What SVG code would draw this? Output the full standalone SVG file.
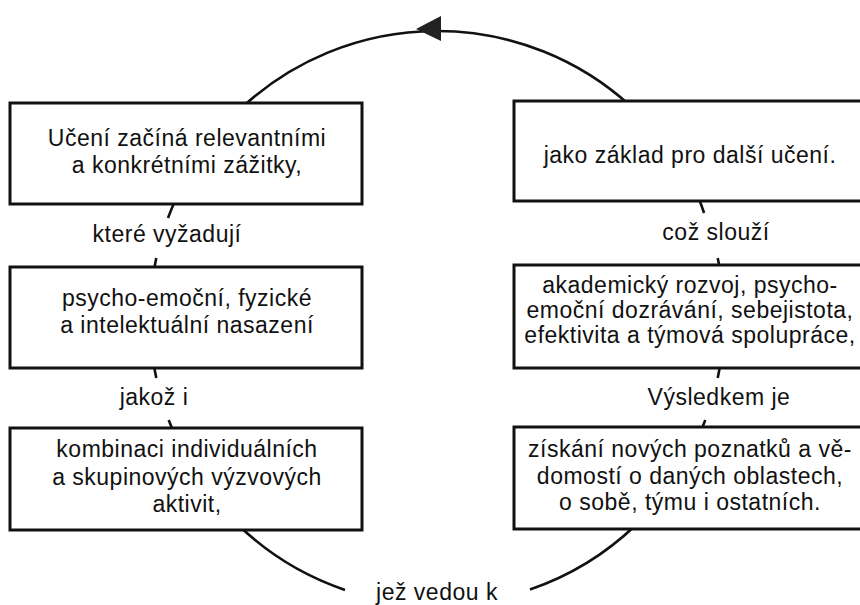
<svg xmlns="http://www.w3.org/2000/svg" width="860" height="605" viewBox="0 0 860 605">
<style>
.box{fill:#fff;stroke:#111;stroke-width:3}
.arc{fill:none;stroke:#111;stroke-width:2.6}
text{font-family:"Liberation Sans",Arial,sans-serif;font-size:23px;fill:#111;letter-spacing:0.5px;text-anchor:middle}
</style>
<rect width="860" height="605" fill="#fff"/>
<g id="connectors">
<path class="arc" d="M 241.4 108 A 287 287 0 0 1 630.5 106"/>
<path class="arc" d="M 175.4 200 A 287 287 0 0 0 168 218"/>
<path class="arc" d="M 156.3 258 A 287 287 0 0 0 153.7 272"/>
<path class="arc" d="M 153.7 364 A 287 287 0 0 0 156.3 378"/>
<path class="arc" d="M 168.7 420 A 287 287 0 0 0 174.5 434"/>
<path class="arc" d="M 238.2 525 A 287 287 0 0 0 345 589.9"/>
<path class="arc" d="M 530 589.5 A 287 287 0 0 0 635.8 525"/>
<path class="arc" d="M 698.6 198 A 287 287 0 0 1 704.1 213"/>
<path class="arc" d="M 717.7 258 A 287 287 0 0 1 720 270"/>
<path class="arc" d="M 720.3 364 A 287 287 0 0 1 717.7 378"/>
<path class="arc" d="M 705.3 420 A 287 287 0 0 1 700.4 432"/>
<polygon points="416,29 441,16 441,41" fill="#222"/>
</g>
<g id="n1"><rect class="box" x="10" y="103" width="352" height="101"/>
<text x="187" y="146">Učení začíná relevantními</text>
<text x="187" y="173">a konkrétními zážitky,</text></g>
<g id="l1"><text x="167" y="242">které vyžadují</text></g>
<g id="n2"><rect class="box" x="10" y="267" width="352" height="101"/>
<text x="187" y="306">psycho-emoční, fyzické</text>
<text x="187" y="333">a intelektuální nasazení</text></g>
<g id="l2"><text x="154" y="405">jakož i</text></g>
<g id="n3"><rect class="box" x="10" y="428" width="352" height="102"/>
<text x="187" y="457">kombinaci individuálních</text>
<text x="187" y="485">a skupinových výzvových</text>
<text x="187" y="512">aktivit,</text></g>
<g id="l3"><text x="437" y="600">jež vedou k</text></g>
<g id="n4"><rect class="box" x="514" y="427" width="360" height="102"/>
<text x="690" y="457">získání nových poznatků a vě-</text>
<text x="690" y="484">domostí o daných oblastech,</text>
<text x="690" y="510">o sobě, týmu i ostatních.</text></g>
<g id="l4"><text x="719" y="405">Výsledkem je</text></g>
<g id="n5"><rect class="box" x="514" y="265" width="360" height="103"/>
<text x="690" y="293">akademický rozvoj, psycho-</text>
<text x="690" y="318">emoční dozrávání, sebejistota,</text>
<text x="690" y="343">efektivita a týmová spolupráce,</text></g>
<g id="l5"><text x="716" y="240">což slouží</text></g>
<g id="n6"><rect class="box" x="514" y="101" width="360" height="100"/>
<text x="690" y="163">jako základ pro další učení.</text></g>
</svg>
